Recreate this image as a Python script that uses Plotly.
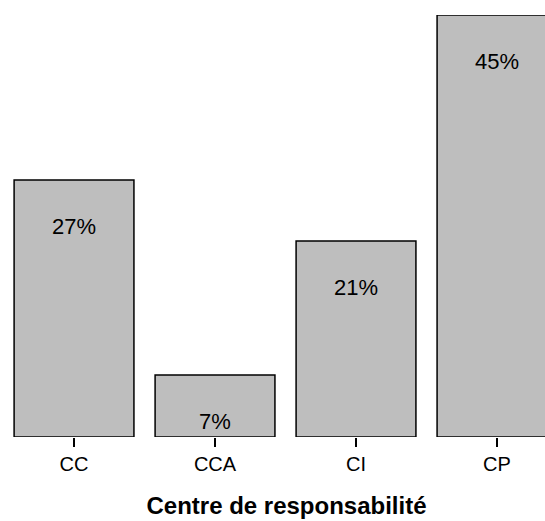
import plotly.graph_objects as go

categories = ["CC", "CCA", "CI", "CP"]
values = [27.4, 6.6, 20.9, 45.0]
labels = ["27%", "7%", "21%", "45%"]

label_offset = 5.2

fig = go.Figure()
fig.add_trace(go.Bar(
    x=categories, y=values, width=0.85,
    marker=dict(color="#BEBEBE", line=dict(color="black", width=1.5)),
    hoverinfo="skip",
))
fig.add_trace(go.Scatter(
    x=categories, y=[v - label_offset for v in values],
    mode="text", text=labels,
    textfont=dict(family="Liberation Sans, Arial", size=22, color="black"),
    hoverinfo="skip",
))

fig.update_layout(
    width=573, height=521,
    margin=dict(l=0, r=0, t=15, b=84),
    plot_bgcolor="white", paper_bgcolor="white",
    showlegend=False,
    font=dict(family="Liberation Sans, Arial", size=20, color="black"),
)
fig.update_xaxes(
    range=[-0.525, 3.539],
    ticks="outside", ticklen=9, tickwidth=2, tickcolor="black",
    showgrid=False, showline=False, zeroline=False,
    tickfont=dict(size=20, color="black"),
    title=dict(text="<b>Centre de responsabilité</b>", font=dict(size=24), standoff=23),
)
fig.update_yaxes(range=[0, 45], visible=False)

fig.write_html(
    "out.html",
    config={"displayModeBar": False},
    post_script="document.body.style.margin='0';document.body.style.overflow='hidden';",
)
